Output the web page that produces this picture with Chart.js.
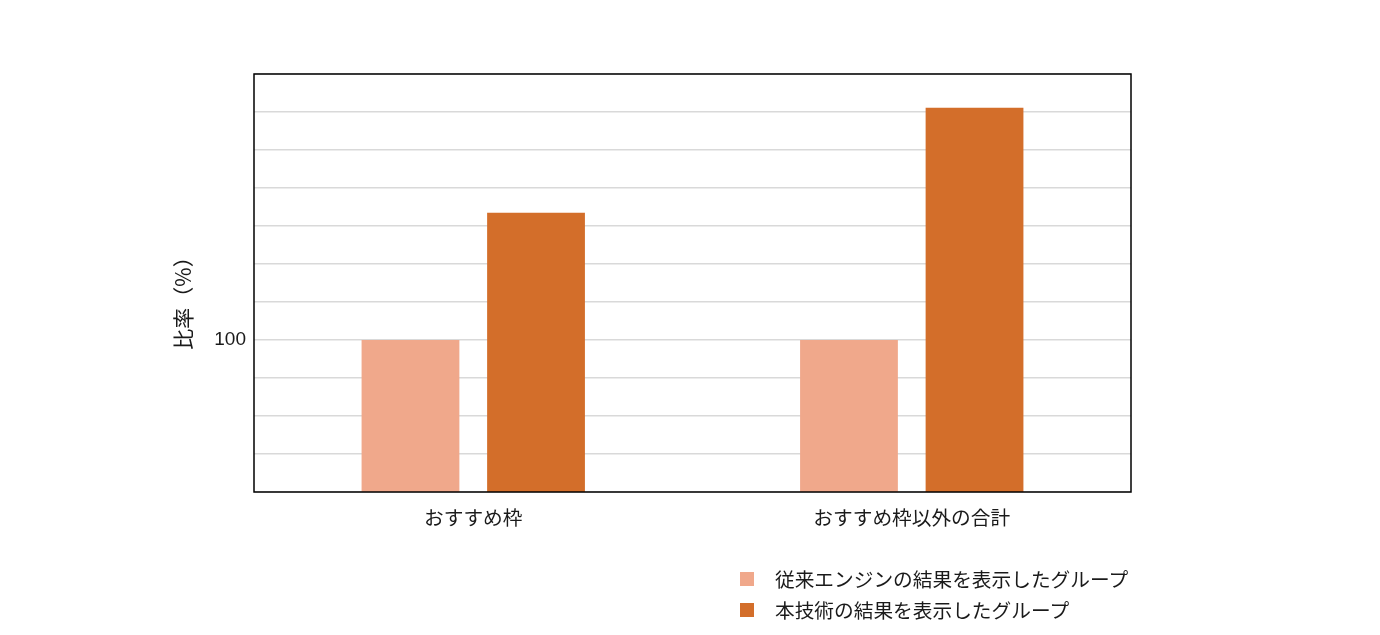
<!DOCTYPE html>
<html>
<head>
<meta charset="utf-8">
<script src="https://cdn.jsdelivr.net/npm/chart.js@4/dist/chart.umd.min.js"></script>
<style>
html,body{margin:0;padding:0;background:#fff;}
#wrap{position:relative;width:1380px;height:635px;}
#legend{position:absolute;left:740px;top:563px;font-family:"Noto Sans CJK JP","Noto Sans",sans-serif;font-size:19.7px;color:#1a1a1a;}
#legend .row{display:flex;align-items:center;height:31px;}
#legend .sw{width:14px;height:14px;margin-right:21px;}
</style>
</head>
<body>
<div id="wrap">
<canvas id="c" width="1380" height="635"></canvas>
<div id="legend"></div>
</div>
<script>
const categories = ["おすすめ枠", "おすすめ枠以外の合計"];
const seriesLabels = ["従来エンジンの結果を表示したグループ", "本技術の結果を表示したグループ"];
const conventional = [100, 100];
const proposed = [133.5, 161.1];
const yTickLabels = [100];
const yTitle = "比率（%）";
const colors = ["#F0A88B", "#D36E2A"];

const frame = {
  id: 'frame',
  afterDraw(chart) {
    const {ctx, chartArea: a} = chart;
    ctx.save();
    ctx.strokeStyle = '#000';
    ctx.lineWidth = 1.5;
    ctx.strokeRect(a.left, a.top, a.right - a.left, a.bottom - a.top);
    ctx.translate(183, 298);
    ctx.rotate(-Math.PI / 2);
    ctx.fillStyle = '#1a1a1a';
    ctx.font = '21px "Noto Sans CJK JP", sans-serif';
    ctx.textAlign = 'center';
    ctx.textBaseline = 'middle';
    ctx.fillText(yTitle, 0, 0);
    ctx.restore();
  }
};

const chart = new Chart(document.getElementById('c'), {
  type: 'bar',
  data: {
    labels: categories,
    datasets: [
      {label: seriesLabels[0], data: conventional, backgroundColor: colors[0]},
      {label: seriesLabels[1], data: proposed, backgroundColor: colors[1]}
    ]
  },
  options: {
    responsive: false,
    animation: false,
    devicePixelRatio: 1,
    categoryPercentage: 0.5726,
    barPercentage: 0.779,
    layout: {padding: {top: 74, right: 249, left: 0, bottom: 0}},
    plugins: {legend: {display: false}, tooltip: {enabled: false}},
    scales: {
      x: {
        grid: {display: false, drawTicks: false},
        border: {display: false},
        ticks: {color: '#1a1a1a', padding: 14, font: {family: '"Noto Sans CJK JP", sans-serif', size: 19.7}},
        afterFit(s) { s.height = 143; }
      },
      y: {
        min: 60, max: 170,
        grid: {color: '#d9d9d9', lineWidth: 1.5, drawTicks: false},
        border: {display: false},
        ticks: {
          stepSize: 10, padding: 8, color: '#1a1a1a',
          font: {family: '"Liberation Sans", Arial, sans-serif', size: 19},
          callback: v => yTickLabels.includes(v) ? String(v) : ''
        },
        afterFit(s) { s.width = 254; }
      }
    }
  },
  plugins: [frame]
});

const lg = document.getElementById('legend');
seriesLabels.forEach((l, i) => {
  const r = document.createElement('div');
  r.className = 'row';
  r.innerHTML = '<div class="sw" style="background:' + colors[i] + '"></div><span>' + l + '</span>';
  lg.appendChild(r);
});
</script>
</body>
</html>
